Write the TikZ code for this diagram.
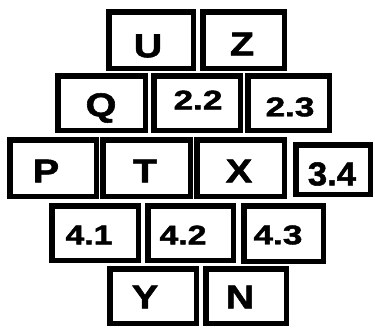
\documentclass[tikz,border=0pt]{standalone}
\usepackage{fontspec}
\setmainfont{Liberation Sans}[BoldFeatures={FakeBold=1.6}]
\begin{document}
\begin{tikzpicture}[x=1pt,y=-1pt,
  boxnode/.style={draw=black,line width=5.5pt,rectangle,inner sep=0pt,fill=white},
  bigtxt/.style={inner sep=0pt,font=\fontsize{33}{33}\selectfont\bfseries},
  smalltxt/.style={inner sep=0pt,font=\fontsize{27}{27}\selectfont\bfseries}]
\useasboundingbox[fill=white] (0,0) rectangle (375,327);
\newcommand{\bx}[5]{\node[boxnode,minimum width=#4pt-5.5pt,minimum height=#5pt-5.5pt] (#1) at (#2,#3) {};}
% row 1
\bx{bU}{151}{40}{90}{62}
\bx{bZ}{243.5}{40}{87}{62}
% row 2
\bx{bQ}{101.5}{103}{93}{60}
\bx{bB}{197}{103}{92}{60}
\bx{bC}{288.5}{103}{87}{60}
% row 3
\bx{bP}{53}{168}{92}{62}
\bx{bT}{146.5}{168}{93}{62}
\bx{bX}{240.5}{168}{93}{62}
\bx{bD}{333}{169.5}{80}{55}
% row 4
\bx{bE}{95}{233}{92}{60}
\bx{bF}{190.5}{233}{91}{60}
\bx{bG}{283.5}{233.5}{85}{61}
% row 5
\bx{bY}{153}{296}{92}{60}
\bx{bN}{246}{296}{86}{60}
% texts
\node[bigtxt] (tU) at (148,46) {\scalebox{1.2}[1]{U}};
\node[bigtxt] (tZ) at (242,44) {\scalebox{1.2}[1]{Z}};
\node[bigtxt] (tQ) at (101,108) {\scalebox{1.2}[1]{Q}};
\node[smalltxt] (t22) at (198,100) {\scalebox{1.3}[1]{2.2}};
\node[smalltxt] (t23) at (290,107) {\scalebox{1.3}[1]{2.3}};
\node[bigtxt] (tP) at (46,171) {\scalebox{1.2}[1]{P}};
\node[bigtxt] (tT) at (145,171) {\scalebox{1.2}[1]{T}};
\node[bigtxt] (tX) at (239,171) {\scalebox{1.2}[1]{X}};
\node[bigtxt] (t34) at (332,174) {\scalebox{1.05}[1]{3.4}};
\node[smalltxt] (t41) at (89,235) {\scalebox{1.25}[1]{4.1}};
\node[smalltxt] (t42) at (183,235) {\scalebox{1.25}[1]{4.2}};
\node[smalltxt] (t43) at (278,235) {\scalebox{1.3}[1]{4.3}};
\node[bigtxt] (tY) at (145,297) {\scalebox{1.2}[1]{Y}};
\node[bigtxt] (tN) at (240,297) {\scalebox{1.2}[1]{N}};
\end{tikzpicture}
\end{document}
